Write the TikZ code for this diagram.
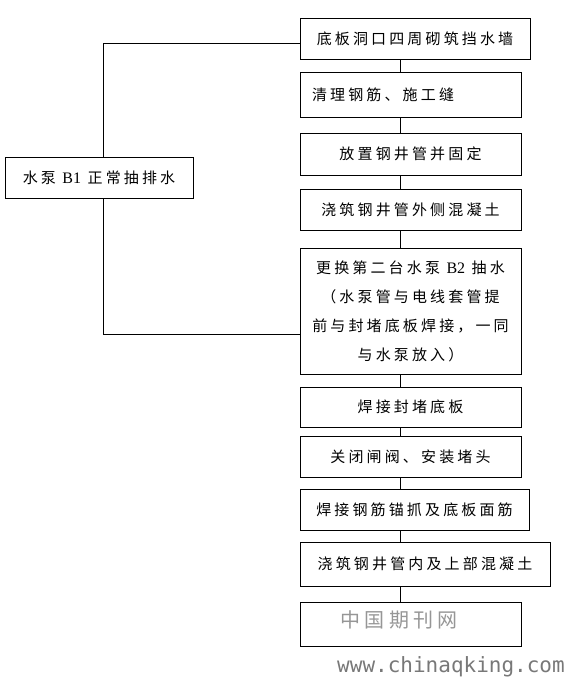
\documentclass[tikz,border=0pt]{standalone}
\usepackage{fontspec}
\newfontfamily\cjk[LetterSpace=21]{Noto Sans CJK SC}
\newfontfamily\lat{Liberation Serif}
\newfontfamily\wmfont{DejaVu Sans Mono}
\definecolor{wmgray}{RGB}{120,120,120}
\definecolor{wmlight}{RGB}{150,150,150}
\begin{document}
\begin{tikzpicture}[x=1pt,y=1pt,
  box/.style={draw,line width=0.9pt,inner sep=0pt,font=\cjk\fontsize{15}{29}\selectfont,align=center},
  conn/.style={line width=0.9pt}]
\useasboundingbox (0,0) rectangle (565,678);
\node[box,minimum width=230,minimum height=41] (B1) at (415,639.5) {底板洞口四周砌筑挡水墙};
\node[box,minimum width=221,minimum height=45,text width=197,align=left] (B2) at (410.5,583.5) {清理钢筋、施工缝};
\node[box,minimum width=221,minimum height=42] (B3) at (410.5,524) {放置钢井管并固定};
\node[box,minimum width=221,minimum height=41] (B4) at (410.5,468.5) {浇筑钢井管外侧混凝土};
\node[box,minimum width=221,minimum height=126] (B5) at (410.5,367) {更换第二台水泵 {\lat\fontsize{16}{29}\selectfont B2} 抽水\\（水泵管与电线套管提\\前与封堵底板焊接，一同\\与水泵放入）};
\node[box,minimum width=221,minimum height=40] (B6) at (410.5,271) {焊接封堵底板};
\node[box,minimum width=221,minimum height=41] (B7) at (410.5,221.5) {关闭闸阀、安装堵头};
\node[box,minimum width=229,minimum height=41] (B8) at (414.5,168.5) {焊接钢筋锚抓及底板面筋};
\node[box,minimum width=250,minimum height=44] (B9) at (425,114) {浇筑钢井管内及上部混凝土};
\node[box,minimum width=221,minimum height=44] (B10) at (410.5,54) {};
\node[box,minimum width=188,minimum height=41] (L) at (99,500.5) {水泵 {\lat\fontsize{16}{29}\selectfont B1} 正常抽排水};
\node[font=\cjk\fontsize{20}{22}\selectfont,text=wmlight] (W1) at (399,58) {中国期刊网};
\node[font=\wmfont\fontsize{21}{22}\selectfont,text=wmgray,anchor=east,inner sep=0pt] (W2) at (565,11) {www.chinaqking.com};
\coordinate (cx) at (400,0);
\coordinate (lx) at (103,0);
\draw[conn] (B1.south -| cx) -- (B2.north -| cx);
\draw[conn] (B2.south -| cx) -- (B3.north -| cx);
\draw[conn] (B3.south -| cx) -- (B4.north -| cx);
\draw[conn] (B4.south -| cx) -- (B5.north -| cx);
\draw[conn] (B5.south -| cx) -- (B6.north -| cx);
\draw[conn] (B6.south -| cx) -- (B7.north -| cx);
\draw[conn] (B7.south -| cx) -- (B8.north -| cx);
\draw[conn] (B8.south -| cx) -- (B9.north -| cx);
\draw[conn] (B9.south -| cx) -- (B10.north -| cx);
\draw[conn] ([yshift=-4.5pt]B1.west) -| (L.north -| lx);
\draw[conn] (L.south -| lx) |- ([yshift=-23pt]B5.west);
\end{tikzpicture}
\end{document}
